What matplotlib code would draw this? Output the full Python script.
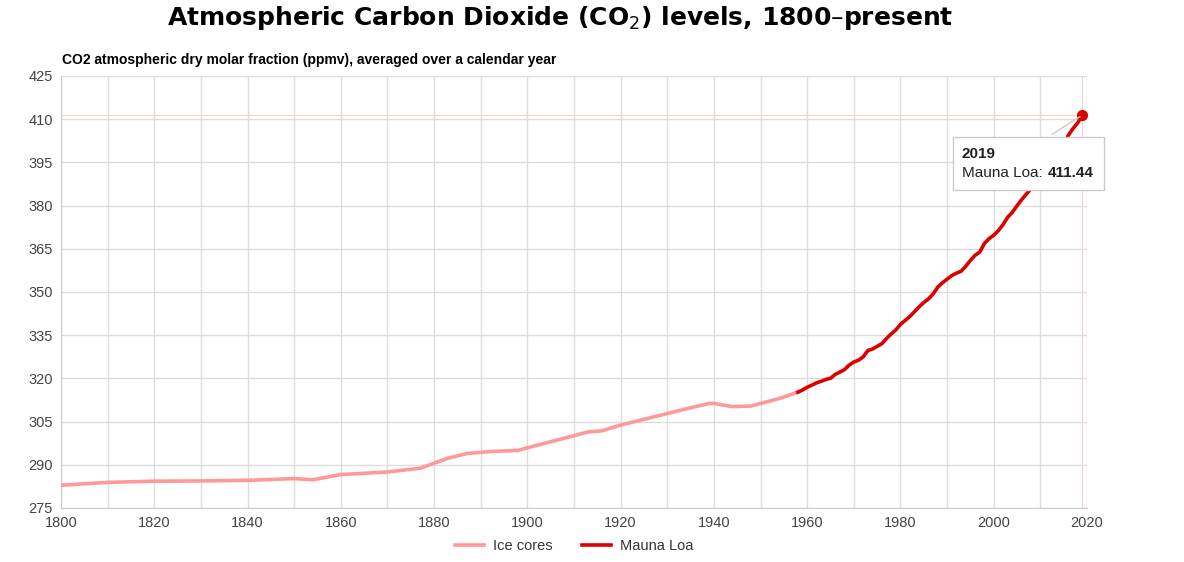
import matplotlib.pyplot as plt
from matplotlib.ticker import MultipleLocator

# Ice core record
ice_years = [1800, 1810, 1820, 1830, 1840, 1850, 1854, 1860, 1870, 1877,
             1883, 1887, 1892, 1898, 1900, 1905, 1910, 1913, 1916, 1920,
             1925, 1930, 1935, 1939, 1940, 1944, 1948, 1950, 1954, 1958]
ice_ppm = [282.9, 283.9, 284.3, 284.4, 284.6, 285.2, 284.8, 286.6, 287.5, 288.8,
           292.3, 293.9, 294.6, 295.0, 295.9, 298.0, 300.1, 301.4, 301.8, 303.8,
           305.8, 307.8, 309.8, 311.3, 311.3, 310.2, 310.4, 311.3, 313.0, 315.2]

# Mauna Loa annual means
ml_years = list(range(1958, 2020))
ml_ppm = [315.23, 315.97, 316.91, 317.64, 318.45, 318.99, 319.62, 320.04, 321.37, 322.18,
          323.05, 324.62, 325.68, 326.32, 327.46, 329.68, 330.19, 331.13, 332.03, 333.84,
          335.41, 336.84, 338.76, 340.12, 341.48, 343.15, 344.85, 346.35, 347.61, 349.31,
          351.69, 353.20, 354.45, 355.70, 356.54, 357.21, 358.96, 360.97, 362.74, 363.88,
          366.84, 368.54, 369.71, 371.32, 373.45, 375.98, 377.70, 379.98, 382.09, 384.02,
          385.83, 387.64, 390.10, 391.85, 394.06, 396.74, 398.81, 401.01, 404.41, 406.76,
          408.72, 411.44]

y_ticks = list(range(275, 426, 15))
x_ticks = list(range(1800, 2021, 20))

plt.rcParams['font.family'] = ['Liberation Sans', 'DejaVu Sans']

fig = plt.figure(figsize=(11.84, 5.62), dpi=100)
ax = fig.add_axes([0.0515, 0.0961, 0.8666, 0.7687])

ax.plot(ice_years, ice_ppm, color='#ff9999', lw=2.6, label='Ice cores', zorder=3)
ax.plot(ml_years, ml_ppm, color='#dd0000', lw=2.6, label='Mauna Loa', zorder=4)

# hover crosshair + point
ax.axhline(ml_ppm[-1], color='#ffcccc', lw=0.8, zorder=2)
ax.axvline(ml_years[-1], color='#ffcccc', lw=0.8, zorder=2)
ax.plot(ml_years[-1], ml_ppm[-1], 'o', color='#dd0000', ms=7, zorder=5)

ax.set_xlim(1800, 2020)
ax.set_ylim(275, 425)
ax.set_yticks(y_ticks)
ax.set_xticks(x_ticks)
ax.xaxis.set_minor_locator(MultipleLocator(10))
ax.grid(True, which='both', color='#dddddd', lw=1, zorder=0)
ax.tick_params(which='both', length=0, labelsize=10.5, colors='#444444', pad=6)
for s in ax.spines.values():
    s.set_visible(False)
ax.spines['left'].set_visible(True)
ax.spines['bottom'].set_visible(True)
ax.spines['left'].set_color('#cccccc')
ax.spines['bottom'].set_color('#cccccc')

# tooltip
ax.annotate('', xy=(ml_years[-1], ml_ppm[-1]), xytext=(2012, 404.2),
            arrowprops=dict(arrowstyle='-', color='#cccccc', lw=1), zorder=5)
ax.text(1993.1, 397.9, '2019', fontsize=11, fontweight='bold', color='#222222',
        va='center', zorder=7)
ax.text(1993.1, 391.4, 'Mauna Loa:', fontsize=11, color='#222222', va='center', zorder=7)
ax.text(2011.6, 391.4, '411.44', fontsize=11, fontweight='bold', color='#222222',
        va='center', zorder=7)
box = plt.Rectangle((1991.2, 385.4), 32.4, 18.5, facecolor='white', edgecolor='#cccccc',
                    lw=1, zorder=6, clip_on=False)
ax.add_patch(box)

fig.text(0.473, 0.968, 'Atmospheric Carbon Dioxide (CO$_2$) levels, 1800\u2013present',
         ha='center', va='center', fontsize=18, fontweight='bold', family='DejaVu Sans')
fig.text(0.0525, 0.893, 'CO2 atmospheric dry molar fraction (ppmv), averaged over a calendar year',
         ha='left', va='center', fontsize=10, fontweight='bold')

leg = fig.legend(loc='center', bbox_to_anchor=(0.485, 0.029), ncol=2, frameon=False,
                 fontsize=10.5, handlelength=2.0, handletextpad=0.6, columnspacing=2.0)
for t in leg.get_texts():
    t.set_color('#333333')

fig.savefig('out.png', dpi=100)
